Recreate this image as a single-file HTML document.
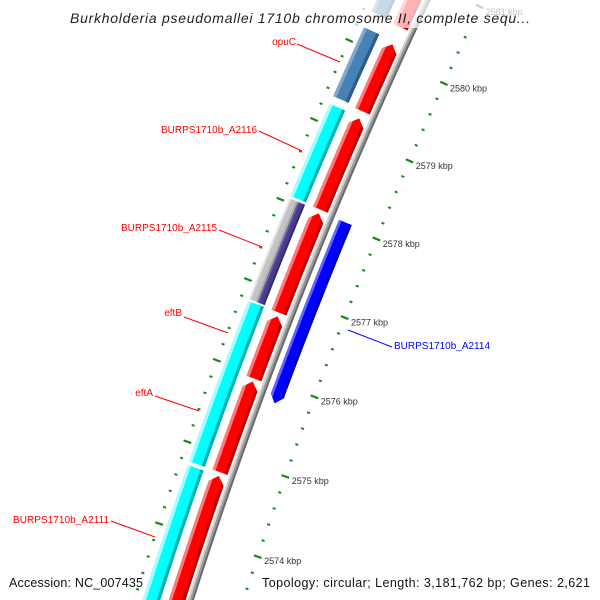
<!DOCTYPE html>
<html><head><meta charset="utf-8"><style>
html,body{margin:0;padding:0;background:#fff;width:600px;height:600px;overflow:hidden;}
svg{display:block;font-family:"Liberation Sans",sans-serif;overflow:hidden;}
</style></head><body>
<svg id="map" width="600" height="600" viewBox="0 0 600 600" xmlns="http://www.w3.org/2000/svg">
<defs id="defs"><clipPath id="frame"><rect x="0" y="0" width="600" height="600"/></clipPath></defs>
<g clip-path="url(#frame)">
<g id="features"></g>
<g id="ticks"></g>
</g>
<g id="labels">
  <line x1="297" y1="44" x2="340" y2="62" stroke="#ff0000" stroke-width="1"/>
  <text x="296" y="45" text-anchor="end" font-size="10" fill="#ff0000">opuC</text>
  <line x1="259" y1="131" x2="302" y2="151" stroke="#ff0000"/>
  <text x="257" y="133" text-anchor="end" font-size="10" textLength="96" fill="#ff0000">BURPS1710b_A2116</text>
  <line x1="219" y1="230" x2="262" y2="247" stroke="#ff0000"/>
  <text x="217" y="231" text-anchor="end" font-size="10" textLength="96" fill="#ff0000">BURPS1710b_A2115</text>
  <line x1="184" y1="317" x2="228" y2="333" stroke="#ff0000"/>
  <text x="182" y="316" text-anchor="end" font-size="10" fill="#ff0000">eftB</text>
  <line x1="155" y1="396" x2="199" y2="411" stroke="#ff0000"/>
  <text x="153" y="396" text-anchor="end" font-size="10" fill="#ff0000">eftA</text>
  <line x1="111" y1="521" x2="155" y2="537" stroke="#ff0000"/>
  <text x="109" y="523" text-anchor="end" font-size="10" textLength="96" fill="#ff0000">BURPS1710b_A2111</text>
  <line x1="348" y1="330" x2="392" y2="347" stroke="#0000ff"/>
  <text x="394" y="349" font-size="10" textLength="96" fill="#0000ff">BURPS1710b_A2114</text>
</g>
<rect x="0" y="0" width="600" height="28" fill="#fff" opacity="0.7"/>
<text x="300" y="23" text-anchor="middle" font-size="14" font-style="italic" fill="#222" textLength="460">Burkholderia pseudomallei 1710b chromosome II, complete sequ...</text>
<text x="9" y="587" font-size="12.5" fill="#111" textLength="134">Accession: NC_007435</text>
<text x="262" y="587" font-size="12.5" fill="#111" textLength="328">Topology: circular; Length: 3,181,762 bp; Genes: 2,621</text>
</svg>
<script>
// ---- data (bp) ----
const slot1Starts = [2572000, 2574793, 2575953, 2576774, 2578067, 2579312, 2580387];
const slot1Ends   = [2574748, 2575915, 2576728, 2578020, 2579222, 2580168, 2582600];
const slot1Names  = ['gene-a2111','gene-eftA','gene-eftB','gene-a2115','gene-a2116','gene-opuC','gene-top-red'];
const slot2Starts = [2572000, 2574793, 2576795, 2578080, 2579336, 2580412];
const slot2Ends   = [2574749, 2576771, 2578050, 2579239, 2580209, 2582600];
const slot2Colors = ['cyan','cyan','grape','cyan','steel','steel'];
const revStarts = [2575764];
const revEnds   = [2578040];
const tickMajors = [2574, 2575, 2576, 2577, 2578, 2579, 2580, 2581];
const tickLabels = ['2574 kbp','2575 kbp','2576 kbp','2577 kbp','2578 kbp','2579 kbp','2580 kbp','2581 kbp'];

// ---- geometry ----
const R = 5000, CX = 4951, CY = 2130;
const PHI0 = Math.atan2(-0.366, -0.931);
const BP0 = 2576983;
const RAD_PER_KB = 84.8 / 4950;
function phi(bp){ return PHI0 + (bp - BP0) / 1000 * RAD_PER_KB; }
function pt(bp, r){ const a = phi(bp); return [CX + r*Math.cos(a), CY + r*Math.sin(a)]; }
const NS = 'http://www.w3.org/2000/svg';
const ARROW = 95;
function arcPts(b1, b2, r){ const n=30, out=[]; for(let i=0;i<=n;i++){ out.push(pt(b1+(b2-b1)*i/n, r)); } return out; }
function toD(pts){ return 'M' + pts.map(p=>p[0].toFixed(2)+','+p[1].toFixed(2)).join('L') + 'Z'; }
function bandD(b1,b2,r1,r2){ return toD(arcPts(b1,b2,r2).concat(arcPts(b1,b2,r1).reverse())); }
function geneD(b1,b2,r1,r2,dir){
  if(dir>0){ const e=b2-ARROW; return toD(arcPts(b1,e,r2).concat([pt(b2,(r1+r2)/2)]).concat(arcPts(b1,e,r1).reverse())); }
  const s=b1+ARROW; return toD([pt(b1,(r1+r2)/2)].concat(arcPts(s,b2,r2)).concat(arcPts(s,b2,r1).reverse()));
}
const PAL = {
  red:['#ff7a7a','#ff0000','#c40000'], cyan:['#a6ffff','#00ffff','#00b2b2'],
  steel:['#7fa9d1','#4682b4','#2f5d85'], blue:['#6464ff','#0000ff','#0000b0'], gray:['#cfcfcf','#9a9a9a','#6a6a6a']
};
const feat = document.getElementById('features'), defs = document.getElementById('defs');
let cid = 0;
function drawGene(name, b1, b2, r1, r2, dir, pal){
  const g = document.createElementNS(NS,'g');
  
  
  const id = 'c'+(cid++);
  const cp = document.createElementNS(NS,'clipPath'); cp.setAttribute('id', id);
  const cpp = document.createElementNS(NS,'path'); cpp.setAttribute('d', dir===0 ? bandD(b1,b2,r1,r2) : geneD(b1,b2,r1,r2,dir));
  cp.appendChild(cpp); defs.appendChild(cp);
  g.setAttribute('clip-path','url(#'+id+')');
  const w = r2 - r1, s = Math.max(2, w*0.2);
  const parts = [[r1, r2, pal[1]], [r2-s, r2, pal[0]], [r1, r1+s, pal[2]]];
  for(const p of parts){
    const e = document.createElementNS(NS,'path');
    e.setAttribute('d', bandD(b1-200, b2+200, p[0], p[1]));
    e.setAttribute('fill', p[2]);
    g.appendChild(e);
  }
  feat.appendChild(g);
}
drawGene('backbone', 2572000, 2582600, R-3, R+3, 0, PAL.gray);
for(let i=0;i<slot1Starts.length;i++){
  drawGene(slot1Names[i], slot1Starts[i], slot1Ends[i], R+5, R+21, 1, PAL.red);
}
for(let i=0;i<slot2Starts.length;i++){
  const c = slot2Colors[i];
  if(c==='grape'){
    drawGene('category-a2115-gray', slot2Starts[i], slot2Ends[i], R+37, R+46, 0, ['#e4e4e4','#c4c4c4','#b0b0b0']);
    drawGene('category-a2115-purple', slot2Starts[i], slot2Ends[i], R+29, R+37, 0, ['#6a5fa8','#483d8b','#35296e']);
  } else {
    drawGene('category-'+c+'-'+i, slot2Starts[i], slot2Ends[i], R+29, R+46, 0, PAL[c]);
  }
}
for(let i=0;i<revStarts.length;i++){
  drawGene('gene-a2114', revStarts[i], revEnds[i], R-22, R-8, -1, PAL.blue);
}
const tg = document.getElementById('ticks');
function tick(bp, rc, len, w, name){
  const a = pt(bp, rc-len/2), b = pt(bp, rc+len/2);
  const l = document.createElementNS(NS,'line');
  
  
  l.setAttribute('x1',a[0]); l.setAttribute('y1',a[1]); l.setAttribute('x2',b[0]); l.setAttribute('y2',b[1]);
  l.setAttribute('stroke','#168a16'); l.setAttribute('stroke-width', w);
  tg.appendChild(l);
}
for(let bp=2572000; bp<=2582600; bp+=200){
  const major = bp % 1000 === 0;
  tick(bp, R+54, major?8:3, major?2.2:2, major?'outer-major-tick':'outer-minor-tick');
  tick(bp, R-50, major?8:3, major?2.2:2, major?'inner-major-tick':'inner-minor-tick');
}
for(let i=0;i<tickMajors.length;i++){
  const p = pt(tickMajors[i]*1000, R-60);
  const t = document.createElementNS(NS,'text');
  
  
  t.setAttribute('x', p[0]-3); t.setAttribute('y', p[1]+4);
  t.setAttribute('font-size','9'); t.setAttribute('fill','#333');
  t.textContent = tickLabels[i];
  tg.appendChild(t);
}
</script>
</body></html>
